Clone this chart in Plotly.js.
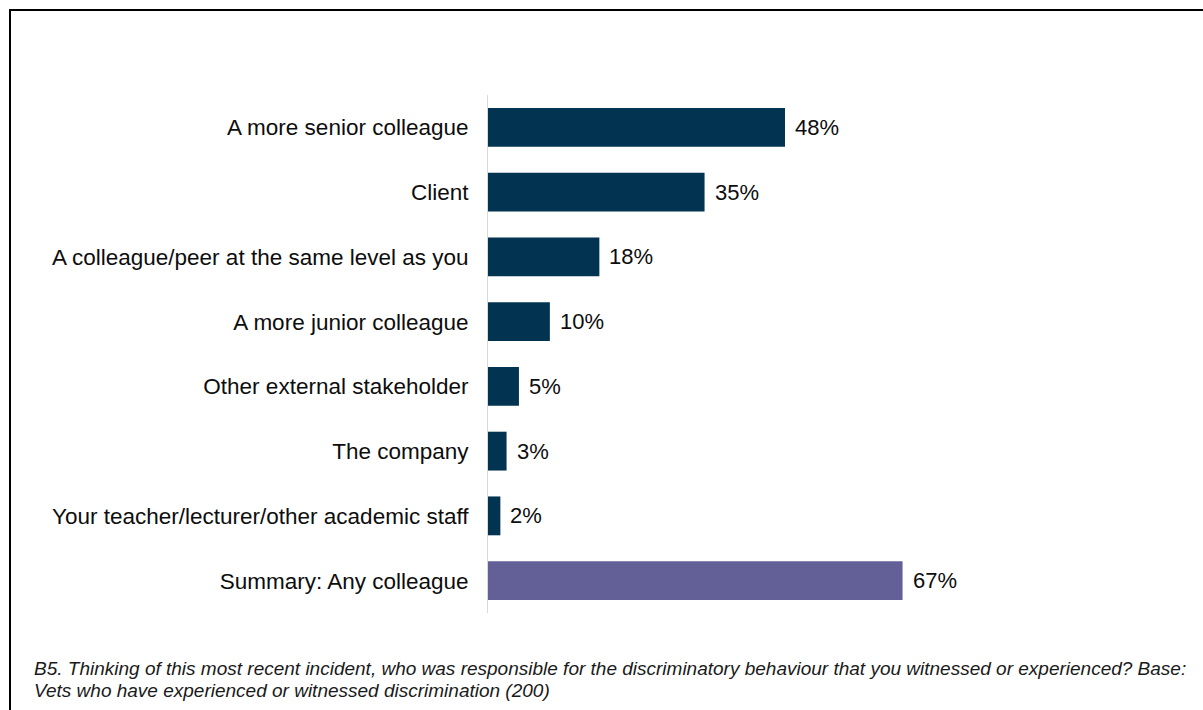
<!DOCTYPE html>
<html>
<head>
<meta charset="utf-8">
<script src="https://cdn.plot.ly/plotly-3.0.1.min.js"></script>
<style>
  html, body { margin: 0; padding: 0; background: #fff; overflow: hidden; }
  #chart { position: absolute; left: 0; top: 0; width: 1203px; height: 710px; }
  #frame { position: absolute; left: 9px; top: 9px; width: 1220px; height: 720px;
           border-left: 2px solid #000; border-top: 2px solid #000; pointer-events: none; }
</style>
</head>
<body>
<div id="chart"></div>
<div id="frame"></div>
<script>
const categories = [
  "A more senior colleague",
  "Client",
  "A colleague/peer at the same level as you",
  "A more junior colleague",
  "Other external stakeholder",
  "The company",
  "Your teacher/lecturer/other academic staff",
  "Summary: Any colleague"
];
const values = [48, 35, 18, 10, 5, 3, 2, 67];
const barColors = ["#023451", "#023451", "#023451", "#023451", "#023451", "#023451", "#023451", "#636098"];
const footnoteLines = [
  "B5. Thinking of this most recent incident, who was responsible for the discriminatory behaviour that you witnessed or experienced? Base:",
  "Vets who have experienced or witnessed discrimination (200)"
];

const FONT = "Liberation Sans, Arial, sans-serif";

const trace = {
  type: "bar",
  orientation: "h",
  y: categories,
  x: values,
  marker: { color: barColors, line: { width: 0 } },
  width: 0.6,
  hoverinfo: "skip"
};

const valueAnnotations = categories.map((c, i) => ({
  x: values[i], y: c, xref: "x", yref: "y",
  text: values[i] + "%",
  showarrow: false, xanchor: "left", yanchor: "middle", xshift: 8,
  font: { family: FONT, size: 22, color: "#0d0d0d" }
}));

const footnoteY = [668, 690];
const footnotes = footnoteLines.map((t, i) => ({
  xref: "paper", yref: "paper",
  x: (32 - 488) / 692, y: (613 - footnoteY[i]) / 518,
  xanchor: "left", yanchor: "middle", align: "left",
  showarrow: false,
  text: "<i>" + t + "</i>",
  font: { family: FONT, size: 19, color: "#1a1a1a" }
}));

const layout = {
  width: 1203, height: 710,
  margin: { l: 488, r: 23, t: 95, b: 97 },
  paper_bgcolor: "#fff", plot_bgcolor: "#fff",
  showlegend: false,
  bargap: 0.4,
  xaxis: { range: [0, 111.84], visible: false, fixedrange: true },
  yaxis: {
    type: "category",
    autorange: "reversed",
    showline: true, linecolor: "#d9d9d9", linewidth: 1,
    showgrid: false, zeroline: false,
    ticks: "", ticklabelstandoff: 14,
    tickfont: { family: FONT, size: 22.5, color: "#0d0d0d" },
    fixedrange: true
  },
  annotations: valueAnnotations.concat(footnotes)
};

Plotly.newPlot("chart", [trace], layout, { displayModeBar: false, staticPlot: true });
</script>
</body>
</html>
